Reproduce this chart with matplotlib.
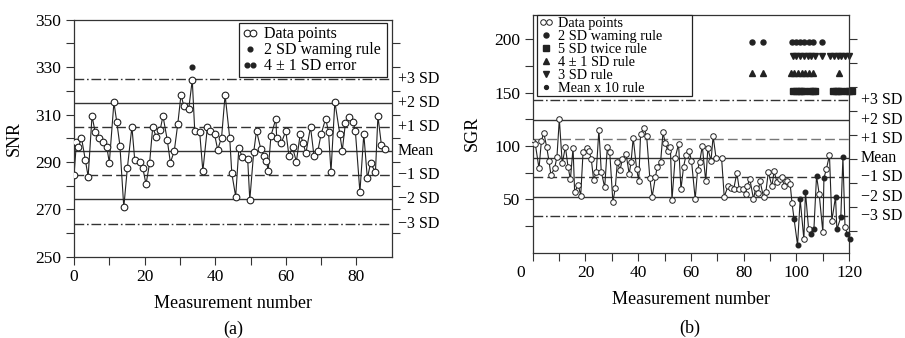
import matplotlib
matplotlib.use("Agg")
import matplotlib.pyplot as plt
from matplotlib.lines import Line2D
from matplotlib.legend_handler import HandlerLine2D
from matplotlib.transforms import blended_transform_factory, ScaledTranslation

# ---- panel (a): SNR ----
snr_x = [0, 0.7, 1.2, 2.1, 3.2, 4.0, 5.1, 6.0, 7.2, 8.2, 9.3, 10.0, 11.3, 12.1,
         13.0, 14.1, 15.1, 16.4, 17.2, 18.6, 19.5, 20.4, 21.4, 22.3, 23.3, 24.4,
         25.2, 26.4, 27.3, 28.4, 29.4, 30.3, 31.1, 32.5, 33.5, 34.2, 35.6, 36.5,
         37.8, 38.6, 39.8, 40.7, 41.8, 42.8, 44.1, 44.7, 45.8, 46.7, 47.7, 49.2,
         49.8, 50.9, 51.7, 52.9, 53.8, 54.5, 55.0, 55.8, 57.2, 57.4, 58.7, 60.0,
         60.9, 61.9, 63.0, 64.1, 64.9, 65.7, 67.0, 68.0, 69.1, 70.0, 71.3, 72.1,
         72.8, 73.9, 75.3, 76.0, 76.9, 77.8, 79.0, 79.7, 81.0, 82.1, 83.1, 84.0,
         85.4, 86.1, 87.1, 88.2]
snr_y = [284.5, 298.6, 296.3, 300.3, 290.8, 283.8, 309.4, 302.5, 300.3, 298.5,
         296.1, 289.7, 315.1, 307.0, 296.9, 270.8, 287.3, 304.8, 290.8, 289.9,
         287.3, 280.6, 289.4, 304.8, 300.4, 303.5, 309.4, 299.4, 289.7, 294.6,
         306.1, 318.3, 313.7, 312.4, 324.6, 303.0, 302.5, 286.2, 304.8, 303.0,
         301.7, 295.2, 300.3, 318.3, 300.3, 285.2, 275.4, 295.8, 292.0, 291.1,
         273.9, 294.1, 303.1, 295.6, 292.4, 290.6, 286.2, 301.1, 308.3, 300.3,
         297.9, 303.1, 292.4, 296.2, 290.1, 302.0, 297.9, 293.7, 304.8, 292.4,
         294.8, 301.7, 308.3, 302.7, 285.8, 315.4, 301.8, 294.8, 306.5, 308.9,
         307.0, 303.2, 277.2, 301.8, 283.1, 289.4, 285.8, 309.4, 297.0, 295.5]
snr_warn_x = [33.5]
snr_warn_y = [329.9]
snr_mean, snr_sd = 294.6, 10.2

# ---- panel (b): SGR ----
sgr_x = [0.0, 1.0, 2.4, 3.3, 4.2, 5.3, 6.2, 6.9, 8.3, 9.2, 10.1, 11.2, 12.4,
         13.4, 14.3, 15.3, 15.9, 17.3, 18.2, 19.1, 20.5, 21.3, 22.2, 23.1, 24.1,
         25.1, 26.0, 27.3, 28.3, 29.2, 30.4, 31.3, 32.1, 33.1, 34.0, 35.4, 36.6,
         37.3, 38.1, 39.4, 40.2, 40.9, 42.1, 43.2, 44.4, 45.3, 46.5, 47.2, 48.5,
         49.4, 50.3, 51.2, 52.2, 52.8, 54.0, 55.3, 56.2, 57.2, 58.1, 59.3, 60.2,
         61.6, 62.5, 63.3, 64.3, 65.6, 66.4, 67.6, 68.4, 69.5, 71.6, 72.6, 74.1,
         75.1, 76.2, 77.4, 78.3, 79.6, 80.7, 81.3, 82.3, 83.7, 84.5, 85.3, 86.2,
         87.5, 88.4, 89.3, 90.7, 91.5, 92.6, 93.6, 94.4, 95.4, 96.5, 97.6, 98.3,
         99.1, 100.4, 101.4, 102.8, 103.4, 104.6, 105.6, 106.6, 107.6, 108.6,
         110.0, 110.4, 111.3, 112.5, 113.4, 114.8, 115.3, 116.8, 117.6, 118.4,
         119.3, 120.3]
sgr_y = [103.4, 101.8, 79.0, 104.9, 112.4, 99.3, 85.6, 73.1, 79.0, 89.9, 125.3,
         83.7, 99.3, 80.6, 68.7, 98.4, 57.1, 63.4, 53.4, 94.6, 98.4, 95.6, 88.1,
         68.1, 75.9, 115.3, 75.9, 61.2, 99.3, 94.6, 47.8, 60.3, 85.3, 77.5, 87.5,
         92.5, 73.7, 85.3, 107.8, 78.4, 67.5, 110.9, 117.2, 109.4, 70.0, 52.5,
         70.6, 80.6, 85.3, 112.8, 102.5, 95.6, 98.8, 49.4, 89.0, 101.8, 59.4,
         80.6, 91.3, 95.6, 86.2, 50.3, 77.5, 85.3, 100.0, 66.9, 97.8, 86.2, 109.3,
         89.0, 89.0, 52.5, 62.8, 60.3, 59.7, 75.0, 59.7, 59.4, 55.0, 62.5, 69.3,
         50.3, 60.3, 56.0, 67.2, 51.9, 57.1, 75.3, 62.5, 76.2, 66.5, 69.0, 71.0,
         62.5, 66.9, 64.3, 46.8, 31.2, 7.2, 50.0, 12.5, 57.1, 21.9, 17.5, 21.9,
         72.1, 55.0, 19.1, 70.0, 78.1, 91.5, 30.0, 52.5, 21.9, 33.1, 89.7, 23.7,
         17.5, 12.5]
# 1 = point flagged by a rule (drawn filled)
sgr_flag = [0] * 97 + [1, 1, 1, 0, 1, 0, 1, 1, 1, 0, 0, 1, 0, 0, 0, 1, 1, 1,
                       1, 0, 1, 1, 1]
sgr_mean, sgr_sd = 88.7, 18.1

warn2_x = [83.2, 87.2, 98.4, 99.8, 101.3, 102.9, 104.6, 106.3, 109.5]
warn2_y = [197.2] * len(warn2_x)
twice5_x = [98.8, 99.8, 100.8, 101.8, 102.8, 105.2, 106.2, 107.2,
            113.9, 114.9, 115.9, 116.9, 119.0, 120.0, 121.0]
twice5_y = [151.5] * len(twice5_x)
four1_x = [83.2, 87.2, 97.8, 99.2, 100.6, 102.0, 103.4, 104.8, 106.2, 116.0]
four1_y = [168.1] * len(four1_x)
three_x = [98.6, 100.0, 101.4, 102.8, 104.2, 105.6, 107.0, 109.6,
           112.8, 114.2, 115.6, 117.0, 118.4, 119.8]
three_y = [184.3] * len(three_x)

sd_labels = ["+3 SD", "+2 SD", "+1 SD", "Mean", "\u22121 SD", "\u22122 SD",
             "\u22123 SD"]
sd_steps = [3, 2, 1, 0, -1, -2, -3]


def sd_lines(ax, mean, sd, dx, plus1_color):
    '''Draws the control lines and the labels right of the axes'''
    styles = {3: (0, (7, 2, 1.2, 2)), 2: "-", 1: (0, (7, 3)), 0: "-"}
    tr = blended_transform_factory(ax.transAxes, ax.transData)
    for k, lab in zip(sd_steps, sd_labels):
        y = mean + k * sd
        color = plus1_color if k == 1 else "#333333"
        ax.axhline(y, color=color, lw=1.0, ls=styles[abs(k)], zorder=1)
        ax.text(1 + dx, y, lab, transform=tr, va="center", ha="left",
                fontsize=11.5, clip_on=False)


def style_axes(ax, right_ticks):
    for s in ax.spines.values():
        s.set_linewidth(0.9)
        s.set_color("#333333")
    ax.tick_params(which="both", direction="out", length=5.5, width=0.8,
                   labelsize=12.5, color="#333333")
    twin = ax.twinx()
    twin.set_ylim(ax.get_ylim())
    twin.set_yticks(right_ticks)
    twin.set_yticklabels([])
    twin.tick_params(direction="out", length=5.5, width=0.8, color="#333333")
    for s in twin.spines.values():
        s.set_visible(False)


def main():
    plt.rcParams['font.family'] = ['Liberation Serif', 'DejaVu Serif']
    fig = plt.figure(figsize=(9.05, 3.38), dpi=100)
    ax_a = fig.add_axes([0.0818, 0.2405, 0.351, 0.701])
    ax_b = fig.add_axes([0.5886, 0.2524, 0.3498, 0.7033])

    # (a)
    sd_lines(ax_a, snr_mean, snr_sd, 0.02, "#333333")
    ax_a.plot(snr_x, snr_y, "-", color="#222222", lw=0.8, zorder=2)
    pts_a, = ax_a.plot(snr_x, snr_y, "o", ms=4.8, mfc="white", mec="#222222",
                       mew=0.8, ls="none", zorder=3)
    ax_a.plot(snr_warn_x, snr_warn_y, "o", ms=3.4, color="#222222", zorder=3)
    ax_a.set_xlim(0, 90)
    ax_a.set_ylim(250, 350)
    ax_a.set_xticks([0, 20, 40, 60, 80])
    ax_a.set_xticks([10, 30, 50, 70], minor=True)
    ax_a.set_yticks([250, 270, 290, 310, 330, 350])
    ax_a.set_yticks([260, 280, 300, 320, 340], minor=True)
    ax_a.set_xlabel("Measurement number", fontsize=13, labelpad=7)
    ax_a.set_ylabel("SNR", fontsize=13)
    ax_a.yaxis.set_label_coords(-0.16, 0.5)
    style_axes(ax_a, [260, 270, 280, 290, 300, 310, 320, 330, 340])

    h_warn = Line2D([], [], marker="o", ms=3.4, color="#222222", ls="none")
    h_err = Line2D([], [], marker="o", ms=3.4, color="#222222", ls="none")
    ax_a.legend([pts_a, h_warn, h_err],
                ["Data points", "2 SD waming rule", "4 \u00b1 1 SD error"],
                handler_map={pts_a: HandlerLine2D(numpoints=2),
                             h_err: HandlerLine2D(numpoints=2)},
                loc="upper left", bbox_to_anchor=(0.519, 0.767, 0.466, 0.219),
                mode="expand", fontsize=11.5, frameon=True, fancybox=False,
                edgecolor="#222222", framealpha=1, borderpad=0.2,
                labelspacing=0.0, handlelength=1.0, handletextpad=0.4,
                borderaxespad=0)
    ax_a.get_legend().get_frame().set_linewidth(0.9)

    # (b)
    sd_lines(ax_b, sgr_mean, sgr_sd, 0.036, "#777777")
    ax_b.plot(sgr_x, sgr_y, "-", color="#222222", lw=0.8, zorder=2,
              clip_on=False)
    open_x = [x for x, f in zip(sgr_x, sgr_flag) if not f]
    open_y = [y for y, f in zip(sgr_y, sgr_flag) if not f]
    fill_x = [x for x, f in zip(sgr_x, sgr_flag) if f]
    fill_y = [y for y, f in zip(sgr_y, sgr_flag) if f]
    pts_b, = ax_b.plot(open_x, open_y, "o", ms=4.0, mfc="white",
                       mec="#222222", mew=0.7, ls="none", zorder=3)
    ax_b.plot(fill_x, fill_y, "o", ms=3.3, color="#222222", ls="none",
              zorder=3, clip_on=False)
    m_warn, = ax_b.plot(warn2_x, warn2_y, "o", ms=3.6, color="#222222",
                        ls="none", clip_on=False)
    m_twice, = ax_b.plot(twice5_x, twice5_y, "s", ms=4.0, color="#222222",
                         ls="none", clip_on=False)
    m_four, = ax_b.plot(four1_x, four1_y, "^", ms=4.2, color="#222222",
                        ls="none", clip_on=False)
    m_three, = ax_b.plot(three_x, three_y, "v", ms=4.2, color="#222222",
                         ls="none", clip_on=False)
    m_mean = Line2D([], [], marker="o", ms=2.8, color="#222222", ls="none")
    ax_b.set_xlim(0, 120)
    ax_b.set_ylim(0, 223)
    ax_b.set_xticks([0, 20, 40, 60, 80, 100, 120])
    ax_b.set_xticks([10, 30, 50, 70, 90, 110], minor=True)
    ax_b.set_yticks([50, 100, 150, 200])
    ax_b.set_yticks([25, 75, 125, 175], minor=True)
    ax_b.set_xlabel("Measurement number", fontsize=13, labelpad=7)
    ax_b.set_ylabel("SGR", fontsize=13)
    ax_b.yaxis.set_label_coords(-0.163, 0.5)
    style_axes(ax_b, [20, 42.5, 65, 87.5, 110, 132.5, 155, 177.5, 200])
    # the "0" label sits left of the corner in the original
    zero = ax_b.xaxis.get_major_ticks()[0].label1
    zero.set_transform(zero.get_transform()
                       + ScaledTranslation(-0.12, 0, fig.dpi_scale_trans))

    ax_b.legend([pts_b, m_warn, m_twice, m_four, m_three, m_mean],
                ["Data points", "2 SD waming rule", "5 SD twice rule",
                 "4 \u00b1 1 SD rule", "3 SD rule", "Mean x 10 rule"],
                handler_map={pts_b: HandlerLine2D(numpoints=2)},
                loc="upper left", bbox_to_anchor=(0.0136, 0.651, 0.49, 0.349),
                mode="expand", fontsize=10.3, frameon=True, fancybox=False,
                edgecolor="#222222", framealpha=1, borderpad=0.12,
                labelspacing=0.0, handlelength=1.0, handletextpad=0.35,
                borderaxespad=0)
    ax_b.get_legend().get_frame().set_linewidth(0.9)

    fig.text(233 / 905, 0.027, "(a)", ha="center", va="center", fontsize=13)
    fig.text(690 / 905, 0.03, "(b)", ha="center", va="center", fontsize=13)

    fig.savefig("out.png", dpi=100)


if __name__ == "__main__":
    main()
